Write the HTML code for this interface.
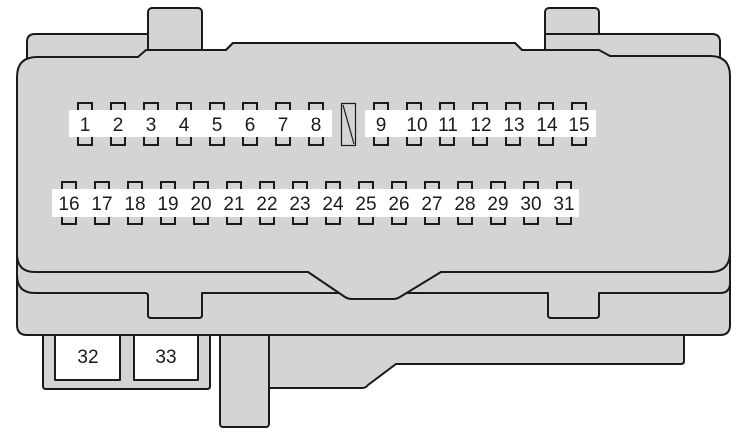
<!DOCTYPE html>
<html><head><meta charset="utf-8"><style>
html,body{margin:0;padding:0;background:#fff;width:748px;height:434px;overflow:hidden}
svg{display:block}
text{font-family:"Liberation Sans",sans-serif;font-size:19px;fill:#1a1a1a;text-anchor:middle}
</style></head><body>
<svg width="748" height="434" viewBox="0 0 748 434">
<g stroke="#1a1a1a" stroke-width="2" fill="#d3d4d6" stroke-linejoin="round">
<path d="M269,330 L684,330 L684,361 Q684,364 681,364 L396,364 L368,385 Q366,388 362,388 L269,388 Z"/>
<rect x="220" y="320" width="49" height="107" rx="3"/>
<path d="M43,330 L210,330 L210,386 Q210,389 207,389 L46,389 Q43,389 43,386 Z"/>
<rect x="55" y="330" width="65" height="50" fill="#fff"/>
<rect x="134" y="330" width="64" height="50" fill="#fff"/>
<rect x="148" y="8" width="54" height="50" rx="4"/>
<rect x="545" y="8" width="54" height="50" rx="4"/>
<path d="M27,80 L27,42 Q27,34 35,34 L148,34 L148,50 L202,50 L226,50 L233,43 L515,43 L522,50 L545,50 L545,34 L712,34 Q720,34 720,42 L720,90 L27,90 Z"/>
<path d="M17,80 L730,80 L730,325 Q730,335 720,335 L27,335 Q17,335 17,325 Z"/>
<path d="M17,80 L730,80 L730,283 Q730,293 720,293 L599,293 L599,315 Q599,318 596,318 L551,318 Q548,318 548,315 L548,293 L202,293 L202,315 Q202,318 199,318 L151,318 Q148,318 148,315 L148,296 Q148,293 145,293 L35,293 Q17,293 17,275 Z"/>
<path d="M17,77 Q17,57 37,57 L138,57 L146,50 L226,50 L233,43 L515,43 L522,50 L599,50 L610,56 L710,56 Q730,56 730,76 L730,252 Q730,272 710,272 L441,272 L400,297 Q397,299 393,299 L352,299 Q348,299 345,297 L308,272 L35,272 Q17,272 17,254 Z"/>
</g>
<g stroke="#1a1a1a" stroke-width="2" fill="none">
<rect x="78" y="103" width="14" height="42"/><rect x="111" y="103" width="14" height="42"/><rect x="144" y="103" width="14" height="42"/><rect x="177" y="103" width="14" height="42"/><rect x="210" y="103" width="14" height="42"/><rect x="243" y="103" width="14" height="42"/><rect x="276" y="103" width="14" height="42"/><rect x="309" y="103" width="14" height="42"/>
<rect x="374" y="103" width="14" height="42"/><rect x="407" y="103" width="14" height="42"/><rect x="440" y="103" width="14" height="42"/><rect x="473" y="103" width="14" height="42"/><rect x="506" y="103" width="14" height="42"/><rect x="539" y="103" width="14" height="42"/><rect x="572" y="103" width="14" height="42"/>
</g>
<rect x="341.5" y="103.5" width="14" height="42" fill="none" stroke="#1a1a1a" stroke-width="1.2"/>
<line x1="343" y1="105" x2="354" y2="144" stroke="#1a1a1a" stroke-width="1.2"/>
<rect x="69" y="110" width="263" height="27" fill="#fff"/>
<rect x="365" y="110" width="231" height="27" fill="#fff"/>
<g>
<text x="85" y="131">1</text><text x="118" y="131">2</text><text x="151" y="131">3</text><text x="184" y="131">4</text><text x="217" y="131">5</text><text x="250" y="131">6</text><text x="283" y="131">7</text><text x="316" y="131">8</text>
<text x="381" y="131">9</text><text x="417" y="131">10</text><text x="448" y="131">11</text><text x="481" y="131">12</text><text x="514" y="131">13</text><text x="547" y="131">14</text><text x="579" y="131">15</text>
</g>
<g stroke="#1a1a1a" stroke-width="2" fill="none">
<rect x="62" y="182" width="14" height="42"/><rect x="95" y="182" width="14" height="42"/><rect x="128" y="182" width="14" height="42"/><rect x="161" y="182" width="14" height="42"/><rect x="194" y="182" width="14" height="42"/><rect x="227" y="182" width="14" height="42"/><rect x="260" y="182" width="14" height="42"/><rect x="293" y="182" width="14" height="42"/><rect x="326" y="182" width="14" height="42"/><rect x="359" y="182" width="14" height="42"/><rect x="392" y="182" width="14" height="42"/><rect x="425" y="182" width="14" height="42"/><rect x="458" y="182" width="14" height="42"/><rect x="491" y="182" width="14" height="42"/><rect x="524" y="182" width="14" height="42"/><rect x="557" y="182" width="14" height="42"/>
</g>
<rect x="52" y="189" width="527" height="28" fill="#fff"/>
<g>
<text x="69" y="210">16</text><text x="102" y="210">17</text><text x="135" y="210">18</text><text x="168" y="210">19</text><text x="201" y="210">20</text><text x="234" y="210">21</text><text x="267" y="210">22</text><text x="300" y="210">23</text><text x="333" y="210">24</text><text x="366" y="210">25</text><text x="399" y="210">26</text><text x="432" y="210">27</text><text x="465" y="210">28</text><text x="498" y="210">29</text><text x="531" y="210">30</text><text x="564" y="210">31</text>
</g>
<text x="88" y="363">32</text><text x="166" y="363">33</text>
</svg>
</body></html>
